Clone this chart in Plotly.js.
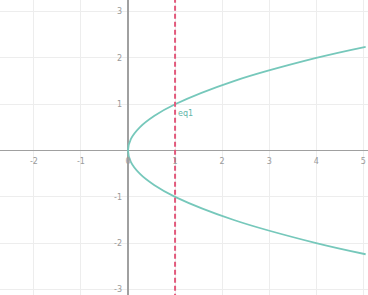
<!DOCTYPE html>
<html>
<head>
<meta charset="utf-8">
<script src="https://cdn.plot.ly/plotly-3.0.1.min.js"></script>
<style>html,body{margin:0;padding:0;background:#fff;}#chart{width:368px;height:295px;}</style>
</head>
<body>
<div id="chart"></div>
<script>
// parabola x = y^2
const curveY = [-2.24, -2, -1.5, -1, -0.75, -0.5, -0.25, 0, 0.25, 0.5, 0.75, 1, 1.5, 2, 2.24];
const curveX = [5.05, 4, 2.25, 1, 0.5625, 0.25, 0.0625, 0, 0.0625, 0.25, 0.5625, 1, 2.25, 4, 5.05];
// vertical line x = 1
const lineX = [1, 1];
const lineY = [-3.2, 3.3];
const xTicks = [-2, -1, 0, 1, 2, 3, 4, 5];
const yTicks = [-3, -2, -1, 1, 2, 3];
const labelText = 'eq1';

const xr = [-2.72, 5.1];
const yr = [-3.12, 3.25];

const traces = [
  {x: curveX, y: curveY, mode: 'lines', line: {color: '#76c8bb', width: 1.8, shape: 'spline'}, hoverinfo: 'none'},
  {x: lineX, y: lineY, mode: 'lines', line: {color: '#e25a7c', width: 2, dash: '5px,3px'}, hoverinfo: 'none'}
];

const layout = {
  width: 368, height: 295,
  margin: {l: 0, r: 0, t: 0, b: 0},
  paper_bgcolor: '#ffffff', plot_bgcolor: '#ffffff',
  showlegend: false,
  font: {family: 'DejaVu Sans, sans-serif', size: 8, color: '#9a9a9a'},
  xaxis: {
    range: xr, tickvals: xTicks, ticktext: xTicks.map(String),
    showgrid: true, gridcolor: '#ededed', gridwidth: 1,
    zeroline: true, zerolinecolor: '#a0a0a0', zerolinewidth: 1.5,
    anchor: 'free', position: (0 - yr[0]) / (yr[1] - yr[0]),
    ticks: '', showline: false, fixedrange: true, ticklabelstandoff: 4
  },
  yaxis: {
    range: yr, tickvals: yTicks, ticktext: yTicks.map(String),
    showgrid: true, gridcolor: '#ededed', gridwidth: 1,
    zeroline: true, zerolinecolor: '#a0a0a0', zerolinewidth: 1.5,
    anchor: 'free', position: (0 - xr[0]) / (xr[1] - xr[0]),
    ticks: '', showline: false, fixedrange: true, ticklabelstandoff: 6
  },
  annotations: [{
    x: 1.02, y: 0.8, xref: 'x', yref: 'y', text: labelText, showarrow: false,
    xanchor: 'left', yanchor: 'middle', font: {size: 8, color: '#5fb5a8'}
  }]
};

Plotly.newPlot('chart', traces, layout, {displayModeBar: false, staticPlot: true});
</script>
</body>
</html>
